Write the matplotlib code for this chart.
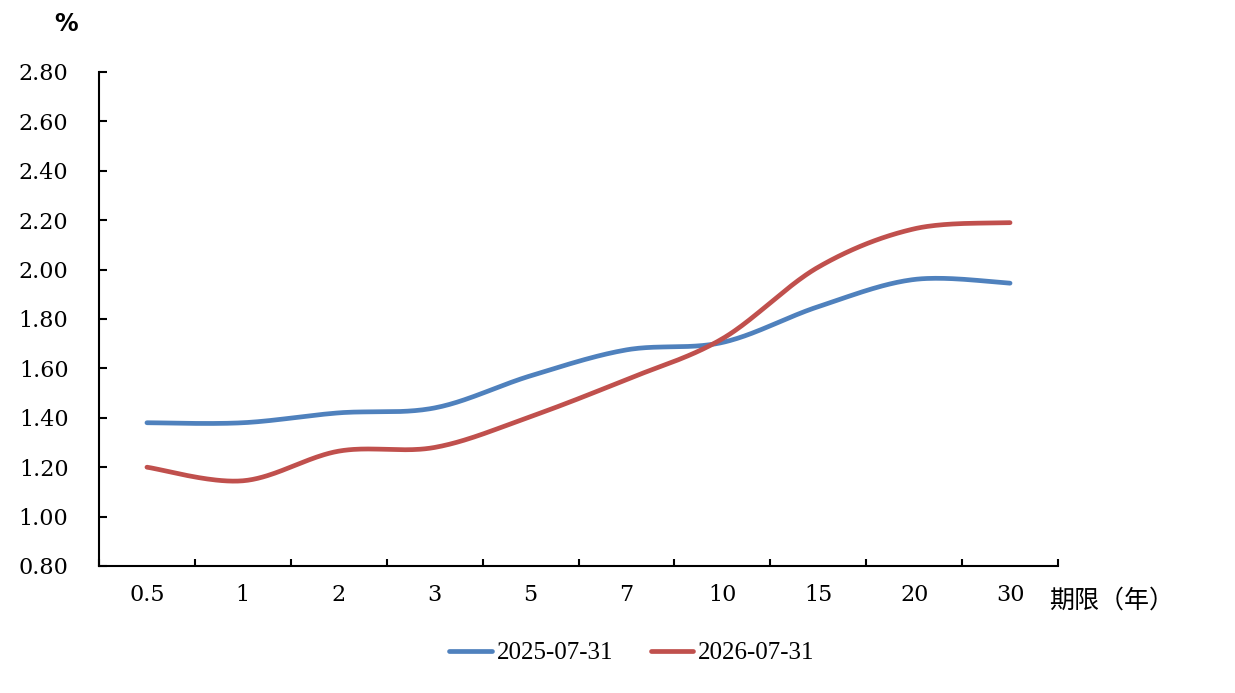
import numpy as np
import matplotlib
matplotlib.use('Agg')
import matplotlib.pyplot as plt
from matplotlib.ticker import FixedLocator

# Yield curve data
tenors = ['0.5', '1', '2', '3', '5', '7', '10', '15', '20', '30']
yield_2025 = [1.38, 1.38, 1.42, 1.44, 1.57, 1.675, 1.705, 1.85, 1.96, 1.945]
yield_2026 = [1.20, 1.145, 1.265, 1.28, 1.405, 1.555, 1.72, 2.01, 2.165, 2.19]
series_names = ['2025-07-31', '2026-07-31']
y_ticks = [0.80, 1.00, 1.20, 1.40, 1.60, 1.80, 2.00, 2.20, 2.40, 2.60, 2.80]


def smooth_curve(x, y, steps=40):
    # Excel-like smoothed line: cubic Bezier segments through every point
    pts = np.column_stack([np.asarray(x, float), np.asarray(y, float)])
    n = len(pts)
    out = [pts[:1]]
    t = np.linspace(0, 1, steps)[1:, None]
    for i in range(n - 1):
        p0 = pts[i - 1] if i > 0 else pts[i]
        p1 = pts[i]
        p2 = pts[i + 1]
        p3 = pts[i + 2] if i + 2 < n else pts[i + 1]
        c1 = p1 + (p2 - p0) / 6
        c2 = p2 - (p3 - p1) / 6
        seg = ((1 - t) ** 3 * p1 + 3 * (1 - t) ** 2 * t * c1
               + 3 * (1 - t) * t ** 2 * c2 + t ** 3 * p2)
        out.append(seg)
    res = np.vstack(out)
    return res[:, 0], res[:, 1]


fig = plt.figure(figsize=(12.35, 6.93), dpi=100)
ax = fig.add_axes([99 / 1235, 1 - 566 / 693, (1058 - 99) / 1235, (566 - 72) / 693])

xs = np.arange(len(tenors))
colors = ['#4F81BD', '#C0504D']
for vals, name, col in zip([yield_2025, yield_2026], series_names, colors):
    sx, sy = smooth_curve(xs, vals)
    ax.plot(sx, sy, color=col, lw=3.4, solid_capstyle='round', label=name)

ax.set_xlim(-0.5, len(tenors) - 0.5)
ax.set_ylim(0.80, 2.80)
ax.set_yticks(y_ticks)
ax.set_yticklabels([f'{v:.2f}' for v in y_ticks], family='DejaVu Serif', fontsize=16)
ax.set_xticks(xs)
ax.set_xticklabels(tenors, family='DejaVu Serif', fontsize=16)
ax.xaxis.set_minor_locator(FixedLocator(np.arange(-0.5, len(tenors), 1.0)))

ax.spines['top'].set_visible(False)
ax.spines['right'].set_visible(False)
for s in ['left', 'bottom']:
    ax.spines[s].set_linewidth(1.5)
ax.tick_params(axis='y', direction='in', length=5.5, width=1.5, pad=22)
ax.tick_params(axis='x', which='major', length=0, pad=13)
ax.tick_params(axis='x', which='minor', direction='in', length=5, width=1.5)

fig.text(66 / 1235, 1 - 24 / 693, '%', ha='center', va='center',
         fontsize=17, fontweight='bold', family='DejaVu Sans')
fig.text(1049 / 1235, 1 - 601 / 693, '期限（年）', ha='left', va='center',
         fontsize=18, family=['Noto Sans CJK SC', 'DejaVu Sans'])

fig.legend(loc='center', bbox_to_anchor=(632 / 1235, 1 - 653 / 693), ncol=2,
           frameon=False, prop={'family': 'Liberation Serif', 'size': 18},
           handlelength=1.7, handletextpad=0.2, columnspacing=1.5)

fig.savefig('out.png', dpi=100)
